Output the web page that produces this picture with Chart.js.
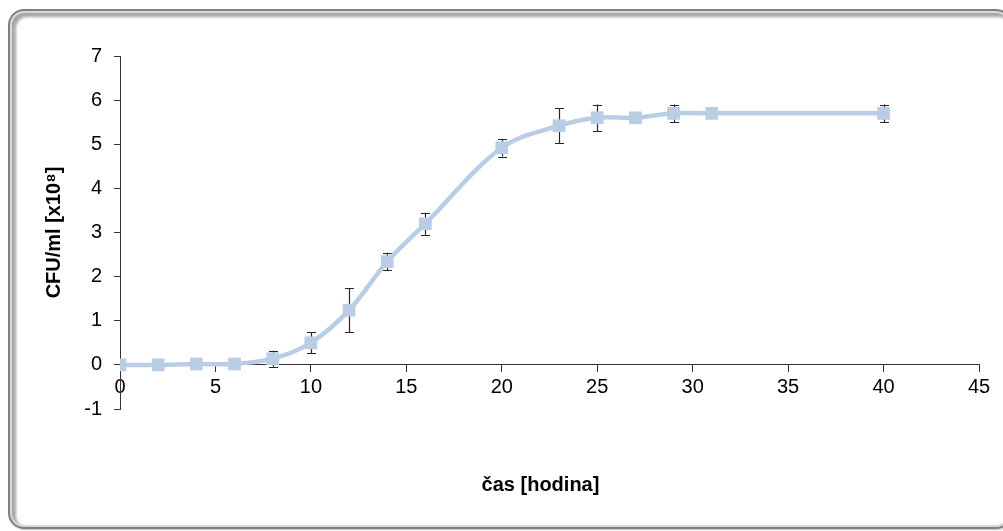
<!DOCTYPE html>
<html>
<head>
<meta charset="utf-8">
<script src="https://cdn.jsdelivr.net/npm/chart.js@4"></script>
<style>
  html, body { margin: 0; padding: 0; background: #fff; }
  #wrap { position: relative; width: 1003px; height: 531px; overflow: hidden; }
  /* rounded chart frame, like the Excel chart border */
  #frame {
    position: absolute; left: 8px; top: 9px; width: 1000px; height: 516px;
    border: 2px solid #7f7f7f; border-radius: 16px;
    box-shadow: inset 0 0 0 2px #d9d9d9, inset 3px 3px 3px 3px #a6a6a6, 1px 1px 2px #bfbfbf;
  }
  #chart { position: absolute; left: 0; top: 0; }
</style>
</head>
<body>
<div id="wrap">
  <div id="frame"></div>
  <canvas id="chart" width="1003" height="531"></canvas>
</div>
<script>
// growth curve: time in hours, CFU/ml in units of 10^8, with error (+/-)
const hours = [0, 2, 4, 6, 8, 10, 12, 14, 16, 20, 23, 25, 27, 29, 31, 40];
const cfu = [0, 0, 0.02, 0.02, 0.14, 0.5, 1.24, 2.34, 3.2, 4.92, 5.42, 5.6, 5.6, 5.7, 5.7, 5.7];
const cfuErr = [0, 0, 0, 0, 0.18, 0.24, 0.5, 0.2, 0.25, 0.2, 0.4, 0.3, 0, 0.2, 0, 0.2];

const xTitle = 'čas [hodina]';
const yTitle = 'CFU/ml [x10⁸]';

const lineColor = '#B9CDE5';
const axisColor = '#333333';

// error bars drawn under the markers
const errorBars = {
  id: 'errorBars',
  beforeDatasetsDraw(chart) {
    const { ctx, scales: { x, y } } = chart;
    ctx.save();
    ctx.strokeStyle = '#262626';
    ctx.lineWidth = 1.2;
    hours.forEach((h, i) => {
      if (!cfuErr[i]) return;
      const px = Math.round(x.getPixelForValue(h)) + 0.5;
      const top = y.getPixelForValue(cfu[i] + cfuErr[i]);
      const bottom = y.getPixelForValue(cfu[i] - cfuErr[i]);
      ctx.beginPath();
      ctx.moveTo(px, top);
      ctx.lineTo(px, bottom);
      ctx.moveTo(px - 4.5, Math.round(top) + 0.5);
      ctx.lineTo(px + 4.5, Math.round(top) + 0.5);
      ctx.moveTo(px - 4.5, Math.round(bottom) + 0.5);
      ctx.lineTo(px + 4.5, Math.round(bottom) + 0.5);
      ctx.stroke();
    });
    ctx.restore();
  }
};

// x axis title sits well below the axis (the axis crosses at y = 0)
const bottomTitle = {
  id: 'bottomTitle',
  afterDraw(chart) {
    const { ctx, chartArea } = chart;
    ctx.save();
    ctx.font = 'bold 20px "Liberation Sans", Arial, sans-serif';
    ctx.fillStyle = '#000';
    ctx.textAlign = 'center';
    ctx.textBaseline = 'middle';
    ctx.fillText(xTitle, (chartArea.left + chartArea.right) / 2 - 9, 485);
    ctx.restore();
  }
};

const ctx = document.getElementById('chart').getContext('2d');

new Chart(ctx, {
  type: 'line',
  data: {
    datasets: [{
      data: hours.map((h, i) => ({ x: h, y: cfu[i] })),
      borderColor: lineColor,
      backgroundColor: lineColor,
      borderWidth: 4.5,
      tension: 0.35,
      pointStyle: 'rect',
      pointRadius: 9,
      pointBorderWidth: 0,
      pointBackgroundColor: lineColor,
      fill: false
    }]
  },
  options: {
    responsive: false,
    animation: false,
    events: [],
    layout: { padding: { left: 0, top: 56, right: 24, bottom: 122 } },
    plugins: {
      legend: { display: false },
      tooltip: { enabled: false }
    },
    scales: {
      x: {
        type: 'linear',
        position: { y: 0 },
        min: 0,
        max: 45,
        ticks: {
          stepSize: 5,
          color: '#000',
          padding: 4,
          font: { family: '"Liberation Sans", Arial, sans-serif', size: 20 }
        },
        grid: { drawOnChartArea: false, drawTicks: true, tickLength: 7, color: axisColor },
        border: { display: true, color: axisColor, width: 1 }
      },
      y: {
        position: 'left',
        min: -1,
        max: 7,
        afterFit(scale) { scale.width = 120; },
        ticks: {
          stepSize: 1,
          color: '#000',
          padding: 12,
          font: { family: '"Liberation Sans", Arial, sans-serif', size: 20 }
        },
        grid: { drawOnChartArea: false, drawTicks: true, tickLength: 6, color: axisColor },
        border: { display: true, color: axisColor, width: 1 },
        title: {
          display: true,
          text: yTitle,
          color: '#000',
          padding: { top: 42, bottom: 0 },
          font: { family: '"Liberation Sans", Arial, sans-serif', size: 20, weight: 'bold' }
        }
      }
    }
  },
  plugins: [errorBars, bottomTitle]
});
</script>
</body>
</html>
